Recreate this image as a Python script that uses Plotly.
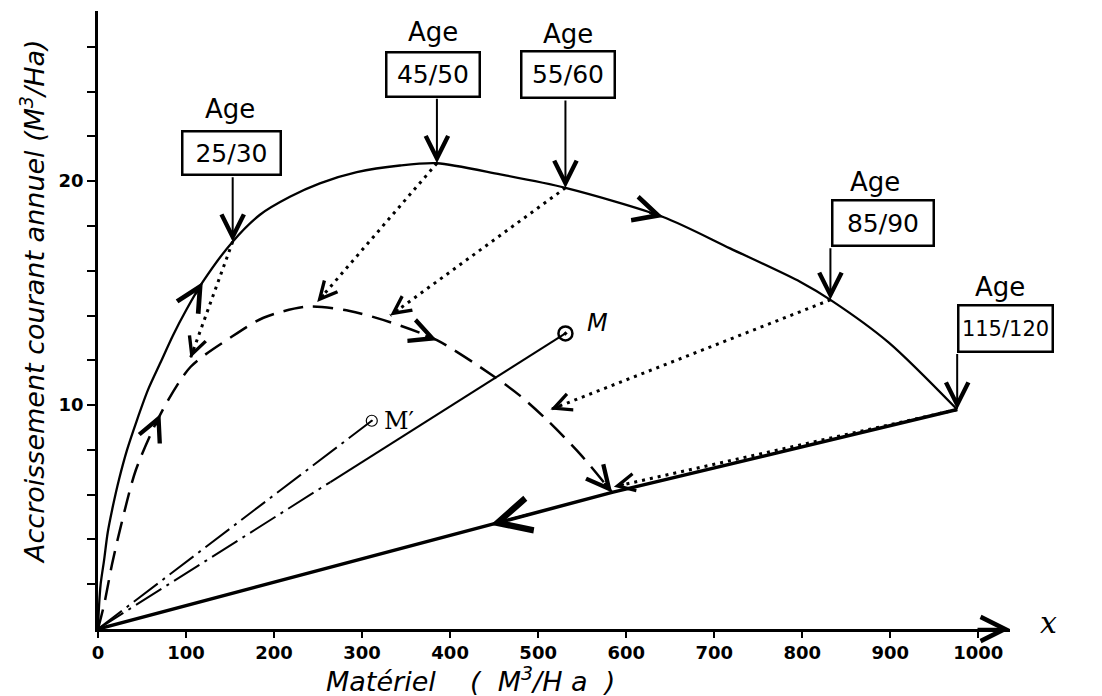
import math
import plotly.graph_objects as go

# ---------------- data ----------------
main_x = [0, 1, 3, 7, 11, 17, 24, 33, 44, 57, 71, 85, 101, 119, 153, 184, 218, 252, 294, 343, 385,
          457, 531, 642, 718, 798, 832, 898, 976]
main_y = [0, 0.9, 2.0, 3.1, 4.3, 5.5, 6.7, 8.0, 9.3, 10.7, 11.9, 13.1, 14.3, 15.5, 17.3, 18.5, 19.3, 19.9, 20.4, 20.7, 20.8,
          20.3, 19.7, 18.4, 17.0, 15.5, 14.7, 12.8, 9.8]

dash_x = [0, 7, 16, 26, 43, 71, 105, 150, 188, 238, 286, 332, 385, 449, 480, 511, 548, 584]
dash_y = [0, 1.1, 2.9, 4.6, 7.1, 9.6, 11.7, 13.0, 13.9, 14.4, 14.2, 13.7, 12.9, 11.3, 10.4, 9.3, 7.8, 6.1]

base_x = [976, 584, 0]
base_y = [9.8, 6.1, 0]

age_labels = ["25/30", "45/50", "55/60", "85/90", "115/120"]
age_x = [153, 385, 531, 832, 976]
age_y = [17.3, 20.8, 19.7, 14.7, 9.8]

# ends of the dotted arrows (on the dashed curve / the base line)
dotted_tx = [105, 249, 332, 514, 586]
dotted_ty = [12.1, 14.6, 14.0, 9.8, 6.35]

m_x, m_y = 531, 13.2        # point M
mp_x, mp_y = 311, 9.3       # point M'
m_solid_from = 264          # x from which the line O-M is drawn solid

bottom_arrow_x = 446        # arrow on the base line

x_ticks = [0, 100, 200, 300, 400, 500, 600, 700, 800, 900, 1000]
y_ticks = [2, 4, 6, 8, 10, 12, 14, 16, 18, 20, 22, 24, 26]
y_labelled = [10, 20]

# ---------------- layout ----------------
W, H = 1102, 696
ML, MR, MT, MB = 98, 92, 11, 67
X_MAX, Y_MAX = 1036, 27.6
PW, PH = W - ML - MR, H - MT - MB
kx = PW / X_MAX
ky = PH / Y_MAX

# pixel offsets for the age labels: box dx, box dy, "Age" dx, "Age" dy, arrow length, box w, box h
label_layout = [
    (-1, 89, -3, 133, 66, 100, 45),
    (-4, 89, -4, 131, 66, 95, 46),
    (3, 113, 3, 154, 89, 95, 48),
    (53, 77, 45, 118, 53, 103, 47),
    (48, 81, 43, 123, 57, 96, 48),
]

INK = "black"
fig = go.Figure()

# main increment curve
fig.add_trace(go.Scatter(x=main_x, y=main_y, mode="lines",
                         line=dict(color=INK, width=2.3, shape="spline", smoothing=0.8)))
# dashed curve
fig.add_trace(go.Scatter(x=dash_x, y=dash_y, mode="lines",
                         line=dict(color=INK, width=2.5, dash="20px,10px", shape="spline", smoothing=0.8)))
# base line
fig.add_trace(go.Scatter(x=base_x, y=base_y, mode="lines", line=dict(color=INK, width=3.5)))

# dotted arrows
for sx, sy, tx, ty in zip(age_x, age_y, dotted_tx, dotted_ty):
    fig.add_trace(go.Scatter(x=[sx, tx], y=[sy, ty], mode="lines",
                             line=dict(color=INK, width=3, dash="3px,5px")))

# line O - M'
fig.add_trace(go.Scatter(x=[0, mp_x], y=[0, mp_y], mode="lines",
                         line=dict(color=INK, width=2, dash="30px,6px,3px,6px")))
# line O - M
ms_y = m_y * m_solid_from / m_x
fig.add_trace(go.Scatter(x=[0, m_solid_from], y=[0, ms_y], mode="lines",
                         line=dict(color=INK, width=2, dash="30px,6px,3px,6px")))
fig.add_trace(go.Scatter(x=[m_solid_from, m_x], y=[ms_y, m_y], mode="lines",
                         line=dict(color=INK, width=2)))
# markers
fig.add_trace(go.Scatter(x=[m_x], y=[m_y], mode="markers",
                         marker=dict(symbol="circle-open-dot", size=14, color=INK, line=dict(width=2.5, color=INK))))
fig.add_trace(go.Scatter(x=[mp_x], y=[mp_y], mode="markers",
                         marker=dict(symbol="circle-open-dot", size=11, color=INK, line=dict(width=1.2, color=INK))))


def head(x, y, x0, y0, length=10, size=1.6, width=2):
    dx = (x - x0) * kx
    dy = -(y - y0) * ky
    n = math.hypot(dx, dy)
    ux, uy = dx / n, dy / n
    fig.add_annotation(x=x, y=y, xref="x", yref="y", ax=-ux * length, ay=-uy * length,
                       text="", showarrow=True, arrowhead=5, arrowsize=size,
                       arrowwidth=width, arrowcolor=INK)


# arrow heads of the dotted lines
for sx, sy, tx, ty in zip(age_x, age_y, dotted_tx, dotted_ty):
    head(tx, ty, sx, sy, length=12, size=1.7, width=2)

# direction arrows on the curves
head(main_x[13], main_y[13], main_x[12], main_y[12], length=16, size=2.4, width=2)
head(main_x[23], main_y[23], main_x[22], main_y[22], length=16, size=2.4, width=2)
head(dash_x[5], dash_y[5], dash_x[4], dash_y[4], length=14, size=2.2, width=2)
head(dash_x[12], dash_y[12], dash_x[11], dash_y[11], length=14, size=2.2, width=2)
head(dash_x[-1], dash_y[-1], dash_x[-2], dash_y[-2], length=14, size=2.2, width=2)
by = base_y[1] * bottom_arrow_x / base_x[1]
head(bottom_arrow_x, by, base_x[1], base_y[1], length=40, size=2.6, width=2.5)

# age labels
for lab, ax_, ay_, lay in zip(age_labels, age_x, age_y, label_layout):
    bdx, bdy, adx, ady, alen, bw, bh = lay
    fsize = 25 if len(lab) <= 5 else 21
    fig.add_annotation(x=ax_, y=ay_, xref="x", yref="y", text=lab, showarrow=False,
                       xanchor="center", yanchor="middle",
                       xshift=bdx, yshift=bdy, width=bw - 4, height=bh - 4,
                       bordercolor=INK, borderwidth=2.5, borderpad=0, bgcolor="white",
                       font=dict(family="DejaVu Sans", size=fsize, color=INK))
    fig.add_annotation(x=ax_, y=ay_, xref="x", yref="y", text="Age", showarrow=False,
                       xanchor="center", yanchor="middle", xshift=adx, yshift=ady,
                       font=dict(family="DejaVu Sans", size=26, color=INK))
    fig.add_annotation(x=ax_, y=ay_, xref="x", yref="y", ax=0, ay=-alen, text="",
                       showarrow=True, arrowhead=5, arrowsize=2.2, arrowwidth=2, arrowcolor=INK)

# M and M' labels
fig.add_annotation(x=m_x, y=m_y, text="M", showarrow=False, xshift=32, yshift=10,
                   xanchor="center", yanchor="middle",
                   font=dict(family="DejaVu Sans", size=24, color=INK, style="italic"))
fig.add_annotation(x=mp_x, y=mp_y, text="M′", showarrow=False, xshift=27, yshift=0,
                   xanchor="center", yanchor="middle",
                   font=dict(family="DejaVu Serif", size=24, color=INK))

# x-axis arrow head and "x"
fig.add_annotation(x=X_MAX, y=0, ax=-34, ay=0, text="", showarrow=True, arrowhead=5,
                   arrowsize=1.9, arrowwidth=2.5, arrowcolor=INK)
fig.add_annotation(xref="paper", yref="paper", x=(1048 - ML) / PW, y=(H - MB - 622) / PH,
                   xanchor="center", yanchor="middle", text="x", showarrow=False,
                   font=dict(family="DejaVu Serif", size=30, color=INK, style="italic"))

# axis titles
fig.add_annotation(xref="paper", yref="paper", x=(470 - ML) / PW, y=-(679 - (H - MB)) / PH,
                   xanchor="center", yanchor="middle",
                   text="Matériel\u00a0\u00a0\u00a0\u00a0(\u00a0\u00a0M<sup>3</sup>/H\u00a0a\u00a0\u00a0)", showarrow=False,
                   font=dict(family="DejaVu Sans", size=27, color=INK, style="italic"))
fig.add_annotation(xref="paper", yref="paper", x=-(ML - 32) / PW, y=((H - MB) - 302) / PH,
                   xanchor="center", yanchor="middle",
                   text="Accroissement courant annuel (M<sup>3</sup>/Ha)", showarrow=False, textangle=-90,
                   font=dict(family="DejaVu Sans", size=27, color=INK, style="italic"))

tickfont = dict(family="DejaVu Sans", size=18, color=INK, weight="bold")
fig.update_layout(
    template=None,
    width=W, height=H, margin=dict(l=ML, r=MR, t=MT, b=MB, autoexpand=False),
    paper_bgcolor="white", plot_bgcolor="white", showlegend=False,
    xaxis=dict(range=[0, X_MAX], showline=True, linewidth=2.5, linecolor=INK, automargin=False,
               ticks="outside", ticklen=6, tickwidth=2, tickcolor=INK,
               tickvals=x_ticks, ticktext=[str(v) for v in x_ticks],
               showgrid=False, zeroline=False, tickfont=tickfont),
    yaxis=dict(range=[0, Y_MAX], showline=True, linewidth=2.5, linecolor=INK, automargin=False,
               ticks="outside", ticklen=8, tickwidth=2, tickcolor=INK,
               tickvals=y_ticks, ticktext=[str(v) if v in y_labelled else "" for v in y_ticks],
               showgrid=False, zeroline=False, tickfont=tickfont),
)

fig.write_html("out.html", config={"displayModeBar": False},
               post_script="document.body.style.margin='0px';document.body.style.overflow='hidden';")
